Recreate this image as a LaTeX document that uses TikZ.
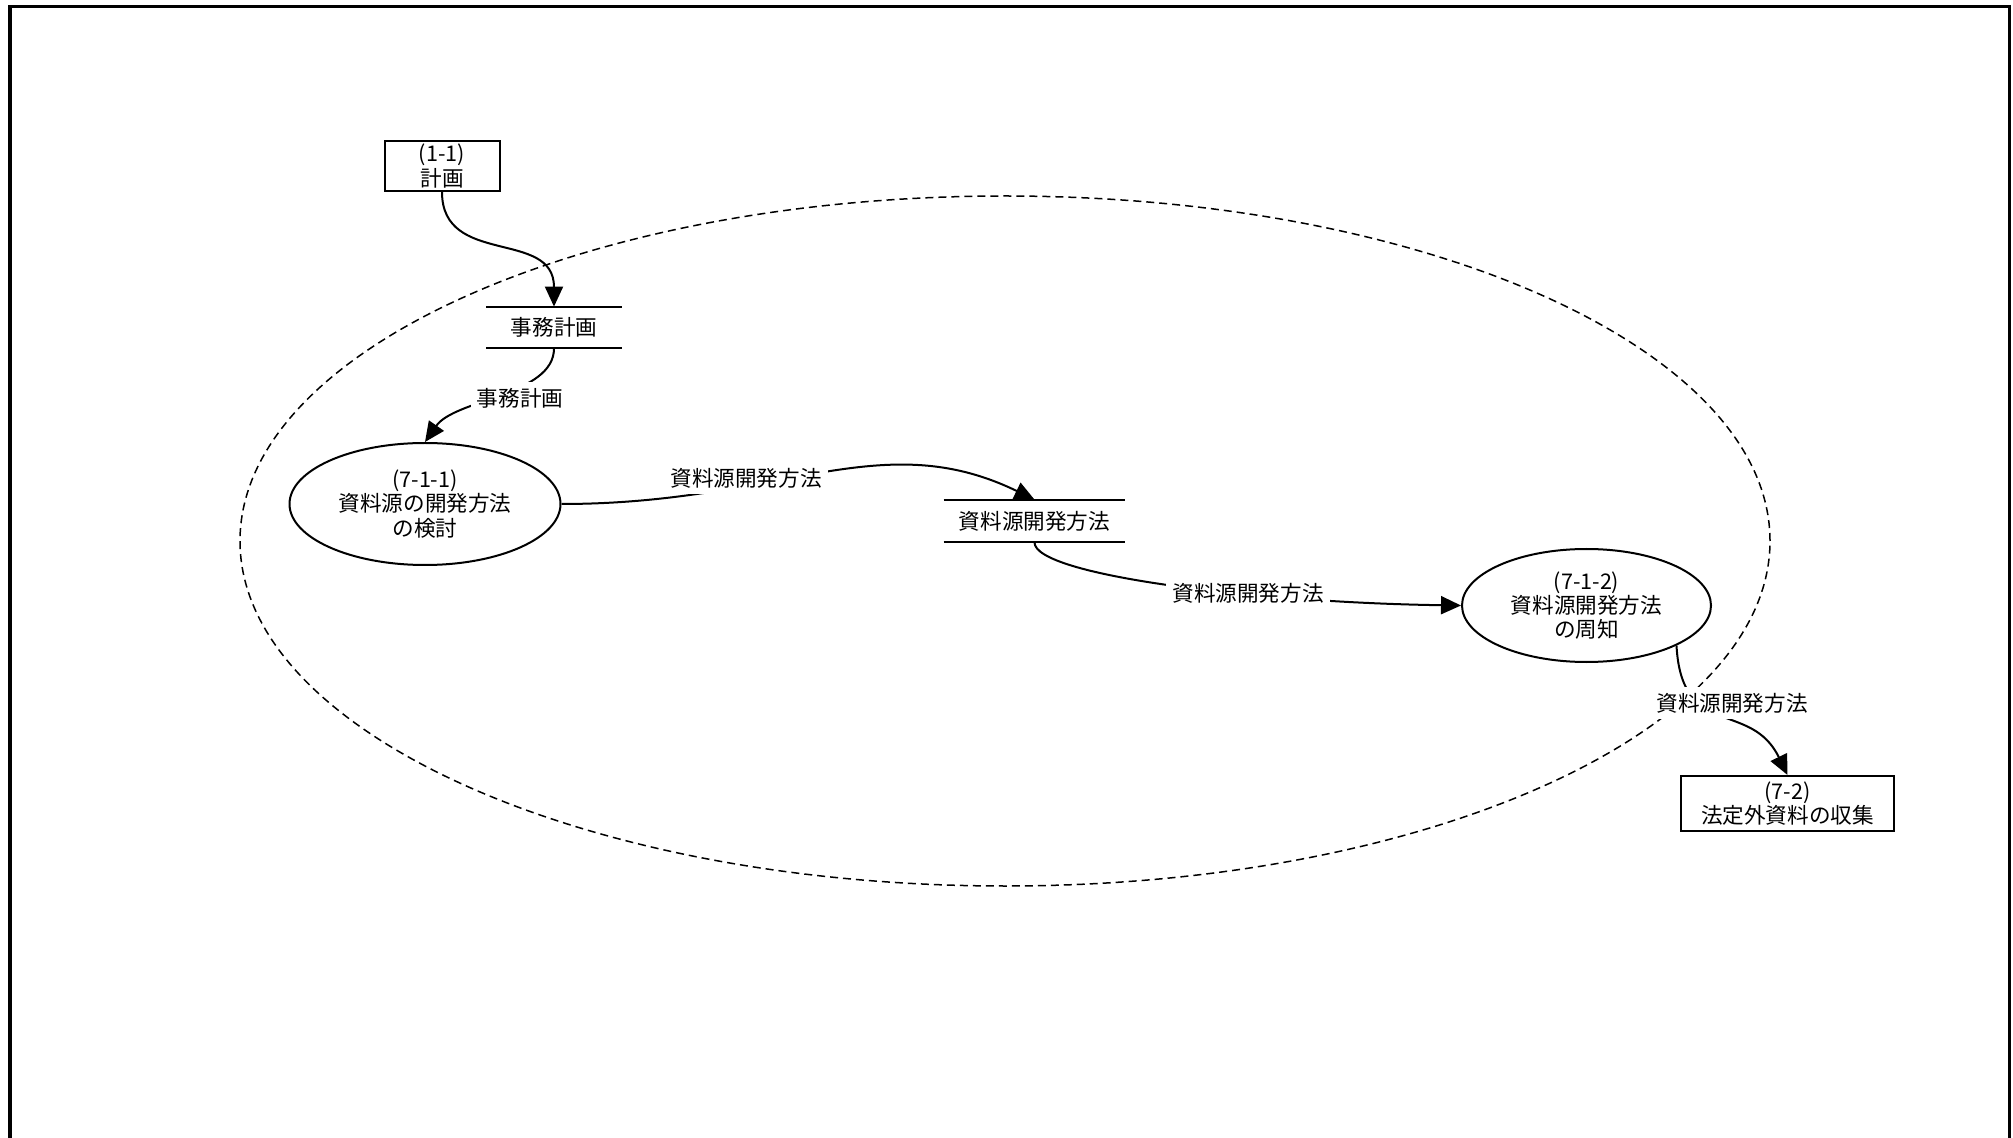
\documentclass[tikz,border=0pt]{standalone}
\usepackage{fontspec}
\setmainfont{Noto Sans CJK JP}
\usetikzlibrary{shapes.geometric,arrows.meta}
\begin{document}
\begin{tikzpicture}[x=0.5pt,y=-0.5pt,
  every node/.style={font=\fontsize{10.8pt}{12.2pt}\selectfont, align=center, inner sep=0pt},
  conn/.style={line width=1pt, -{Triangle[length=10pt,width=9pt]}},
  procbox/.style={draw, line width=1pt, rectangle, fill=white},
  process/.style={draw, line width=1pt, ellipse, fill=white},
  datastore/.style={minimum height=20.5pt, minimum width=67.5pt},
  storeline/.style={line width=1pt},
  flowlabel/.style={fill=white, inner sep=3pt},
  boundary/.style={draw, ellipse, line width=0.75pt, dash pattern=on 4pt off 2.5pt, inner sep=0pt},
]
\useasboundingbox (0,0) rectangle (2013,1138);
\draw[line width=1.65pt] (10,1138) -- (10,6.7) -- (2009.3,6.7) -- (2009.3,1138);
\node[boundary, minimum width=765pt, minimum height=345pt] (bnd) at (1005,541) {};

\node[procbox, minimum width=57.5pt, minimum height=25pt] (p11) at (442,166) {(1-1)\\計画};
\node[datastore] (s1) at (554,327.5) {事務計画};
\draw[storeline] (s1.north west) -- (s1.north east) (s1.south west) -- (s1.south east);
\node[process, minimum width=135.5pt, minimum height=61pt] (e711) at (425,504) {(7-1-1)\\資料源の開発方法\\の検討};
\node[datastore, minimum width=90.5pt, minimum height=21pt] (s2) at (1034.5,521) {資料源開発方法};
\draw[storeline] (s2.north west) -- (s2.north east) (s2.south west) -- (s2.south east);
\node[process, minimum width=124.5pt, minimum height=56.5pt] (e712) at (1586.5,605.5) {(7-1-2)\\資料源開発方法\\の周知};
\node[procbox, minimum width=106.5pt, minimum height=27.5pt] (p72) at (1787.5,803.5) {(7-2)\\法定外資料の収集};

\draw[conn] (p11.south) .. controls +(0,75) and +(0,-78) .. (s1.north);
\draw[conn] (s1.south) .. controls +(0,47) and +(30,-43) .. (e711.north);
\draw[conn] (e711.east) .. controls +(220,0) and +(-154.5,-75) .. (s2.north);
\draw[conn] (s2.south) .. controls +(0,33) and +(-205,-3) .. (e712.west);
\draw[conn] (e712.-24) .. controls +(5,95) and +(-37,-76) .. (p72.north);

\node[flowlabel] (l1) at (520,398) {事務計画};
\node[flowlabel] (l2) at (746,478) {資料源開発方法};
\node[flowlabel] (l3) at (1248,593) {資料源開発方法};
\node[flowlabel] (l4) at (1732,703) {資料源開発方法};
\end{tikzpicture}
\end{document}
